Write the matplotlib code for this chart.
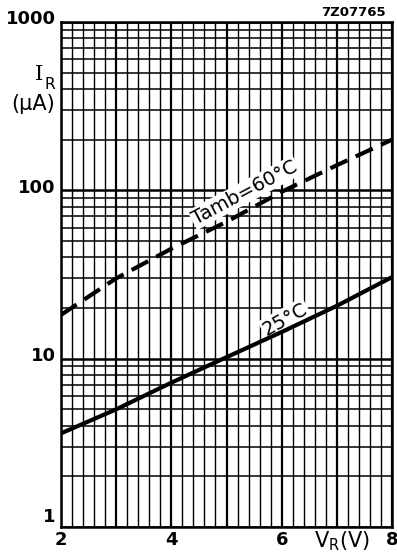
import matplotlib
matplotlib.use("Agg")
import matplotlib.pyplot as plt
import numpy as np

# data
vr = [2, 3, 4, 5, 6, 7, 8]
ir_60 = [18.2, 30, 45, 65, 98, 141, 200]
ir_25 = [3.6, 5.0, 7.2, 10.2, 14.4, 20.6, 30.5]
xtick_vals = [2, 4, 6, 8]
xtick_labels = ["2", "4", "6", "8"]
ytick_vals = [1, 10, 100, 1000]
ytick_labels = ["1", "10", "100", "1000"]

plt.rcParams['font.family'] = ['DejaVu Sans']

fig = plt.figure(figsize=(3.97, 5.56), dpi=100)
ax = fig.add_axes([61/397, 1-527/556, (392-61)/397, (527-22)/556])
ax.set_yscale('log')
ax.set_xlim(2, 8)
ax.set_ylim(1, 1000)

# grid
for x in np.arange(2, 8.001, 0.2):
    major = abs(x - round(x)) < 1e-6
    ax.axvline(x, color='black', lw=1.6 if major else 1.0, zorder=0)
for dec in [1, 10, 100]:
    for m in range(1, 10):
        y = dec * m
        ax.axhline(y, color='black', lw=1.8 if m == 1 else 1.1, zorder=0)
ax.axhline(1000, color='black', lw=1.8, zorder=0)
for s in ax.spines.values():
    s.set_linewidth(1.8)

ax.tick_params(length=0, labelbottom=False, labelleft=False)
ax.set_xticks([])
ax.set_yticks([])
ax.minorticks_off()

# curves
ax.plot(vr, ir_60, color='black', lw=3, dashes=(4.5, 2.2), zorder=3, solid_capstyle='butt')
ax.plot(vr, ir_25, color='black', lw=3, zorder=3)

# curve labels
bb = dict(facecolor='white', edgecolor='none', pad=1.0)
ax.text(5.33, 97, "Tamb=60°C", rotation=28, ha='center', va='center', fontsize=14,
        bbox=bb, zorder=2)
ax.text(6.06, 17.2, "25°C", rotation=29, ha='center', va='center', fontsize=14,
        bbox=bb, zorder=2)

# tick labels
fs = 13
for v, lab in zip(xtick_vals, xtick_labels):
    ax.annotate(lab, (v, 1), xytext=(0, -3), textcoords='offset points',
                ha='center', va='top', fontsize=fs, fontweight='bold')
for v, lab in zip(ytick_vals, ytick_labels):
    dy = 7 if v == 1 else 2
    ax.annotate(lab, (2, v), xytext=(-4, dy), textcoords='offset points',
                ha='right', va='center', fontsize=fs, fontweight='bold')

# axis labels
fig.text(342/397, 1-541/556, r"V$_\mathregular{R}$(V)", ha='center', va='center', fontsize=15)
fig.text(39/397, 1-75/556, "I", ha='center', va='center', fontsize=15, family='DejaVu Serif')
fig.text(50/397, 1-85/556, "R", ha='center', va='center', fontsize=11)
fig.text(33/397, 1-104/556, "(μA)", ha='center', va='center', fontsize=15)
fig.text(386/397, 1-13/556, "7Z07765", ha='right', va='center', fontsize=9.5, fontweight='bold')

fig.savefig("out.png", dpi=100)
